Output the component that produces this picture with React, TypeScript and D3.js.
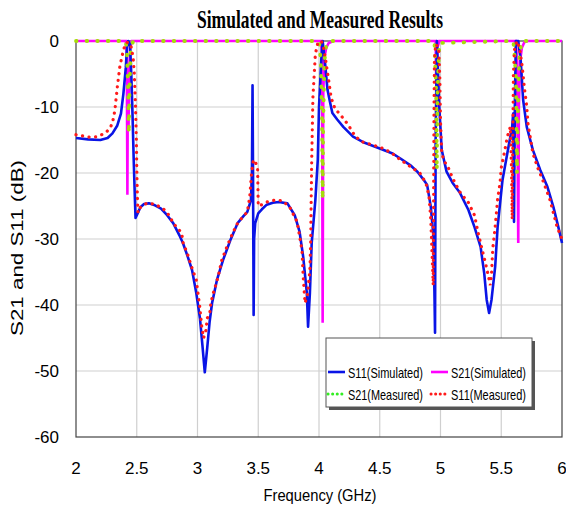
import React, { useEffect, useRef } from 'react';
import * as d3 from 'd3';

// values: [frequency GHz, dB]
const s11Simulated: [number, number][] = [
  [2.0, -14.7], [2.1, -14.9], [2.2, -15.0], [2.26, -14.7], [2.3, -14.0], [2.34, -12.8], [2.37, -11.0],
  [2.39, -8.0], [2.41, -4.0], [2.42, -1.0], [2.43, 0], [2.445, -0.5], [2.455, -5], [2.465, -11],
  [2.475, -18], [2.485, -24], [2.49, -26.8], [2.51, -26.0], [2.53, -25.2], [2.56, -24.7], [2.6, -24.6],
  [2.65, -24.9], [2.7, -25.4], [2.75, -26.4], [2.8, -27.6], [2.85, -29.4], [2.88, -30.6], [2.92, -32.7],
  [2.955, -34.7], [2.99, -38.2], [3.02, -42], [3.04, -46], [3.06, -50.2], [3.08, -46.5], [3.1, -42.5],
  [3.12, -39.7], [3.16, -36.2], [3.21, -33.2], [3.27, -30.2], [3.33, -27.6], [3.38, -26.5], [3.41, -25.9],
  [3.44, -24.1], [3.448, -20], [3.453, -6.7], [3.457, -20], [3.462, -41.5], [3.466, -30], [3.475, -27.6],
  [3.5, -26.1], [3.53, -25.5], [3.57, -24.8], [3.62, -24.5], [3.67, -24.4], [3.74, -24.6], [3.8, -26.4],
  [3.84, -28.9], [3.87, -32.7], [3.9, -38.2], [3.91, -43.3], [3.925, -38.2], [3.94, -30.6], [3.97, -24.1],
  [3.99, -18.0], [4.0, -10], [4.02, -2.4], [4.03, 0], [4.05, -3.4], [4.07, -7.4], [4.09, -9.2],
  [4.11, -10.9], [4.15, -11.9], [4.2, -13.0], [4.28, -14.5], [4.36, -15.3], [4.5, -16.3], [4.6, -17.0],
  [4.67, -17.8], [4.75, -18.8], [4.81, -19.8], [4.86, -21], [4.89, -21.8], [4.92, -25.1], [4.94, -29.1],
  [4.95, -38], [4.955, -44.2], [4.96, -15], [4.97, 0], [4.98, -5], [4.99, -10], [5.01, -16.5],
  [5.05, -19.8], [5.1, -21.5], [5.16, -23.0], [5.23, -25.6], [5.28, -28.2], [5.33, -31.2], [5.36, -35.2],
  [5.38, -39.2], [5.4, -41.2], [5.42, -39.2], [5.45, -34.2], [5.47, -28.2], [5.51, -21.1], [5.56, -16.0],
  [5.59, -13.0], [5.598, -11], [5.605, -27.4], [5.612, -10], [5.62, 0], [5.64, 0], [5.66, -2.9],
  [5.68, -8.9], [5.71, -13.0], [5.76, -16.5], [5.82, -19.5], [5.88, -22.1], [5.93, -25.2], [5.97, -28.2],
  [6.0, -30.6],
];

const s21Simulated: [number, number][] = [
  [2.0, 0], [2.41, 0], [2.418, -2], [2.423, -23.3], [2.426, -8], [2.432, -13.5], [2.438, -6],
  [2.445, -1], [2.46, 0], [4.015, 0], [4.025, -2], [4.03, -42.7], [4.035, -8], [4.045, -2.5],
  [4.06, -1], [4.08, -0.3], [4.12, 0], [4.96, 0], [4.968, -10], [4.975, -1], [4.99, 0], [5.62, 0],
  [5.63, -3], [5.64, -30.6], [5.645, -10], [5.655, -3], [5.67, -1], [5.69, -0.2], [5.72, 0], [6.0, 0],
];

const s21Measured: [number, number][] = [
  [2.0, 0], [2.41, 0], [2.42, -2], [2.43, -8], [2.435, -14], [2.44, -8], [2.45, -1.5], [2.47, 0],
  [4.0, 0], [4.015, -3], [4.025, -12], [4.03, -24], [4.035, -12], [4.045, -3], [4.06, -0.5], [4.1, 0],
  [4.95, 0], [4.965, -8], [4.97, -19.5], [4.975, -8], [4.99, -0.3], [5.6, 0], [5.62, -5], [5.63, -20],
  [5.64, -8], [5.65, -2], [5.67, 0], [6.0, 0],
];

const s11Measured: [number, number][] = [
  [2.0, -14.2], [2.06, -14.4], [2.12, -14.6], [2.17, -14.5], [2.21, -14.2], [2.25, -13.8], [2.28, -13.2],
  [2.3, -12.4], [2.32, -10.5], [2.34, -7], [2.36, -4], [2.38, -2.2], [2.4, -0.8], [2.42, -0.2],
  [2.45, -0.5], [2.47, -2.5], [2.48, -5], [2.49, -10], [2.497, -15], [2.5, -19], [2.505, -23.5],
  [2.51, -26], [2.53, -25.2], [2.58, -24.6], [2.65, -24.7], [2.73, -25.6], [2.77, -26.5], [2.8, -27.6],
  [2.87, -29.1], [2.88, -30.5], [2.92, -32.4], [2.96, -34.7], [2.99, -36.2], [3.0, -37.7], [3.02, -40.5],
  [3.035, -43.3], [3.05, -45.0], [3.07, -43.8], [3.08, -42.0], [3.1, -41.4], [3.11, -39.7], [3.13, -38.2],
  [3.15, -37.0], [3.17, -35.7], [3.2, -33.2], [3.25, -30.8], [3.29, -29.1], [3.33, -27.6], [3.37, -26.7],
  [3.41, -25.9], [3.43, -23.6], [3.445, -20], [3.46, -18], [3.48, -18.5], [3.495, -19.5], [3.5, -25],
  [3.53, -24.8], [3.57, -24.4], [3.64, -24.1], [3.7, -24.2], [3.76, -25.2], [3.82, -27.4], [3.86, -31.7],
  [3.87, -35.7], [3.885, -39.7], [3.905, -38.5], [3.925, -34.7], [3.932, -30], [3.935, -25], [3.94, -18],
  [3.95, -8.5], [3.97, -2], [3.99, -0.3], [4.02, 0], [4.04, -1.2], [4.06, -3.5], [4.08, -6], [4.1, -8.6],
  [4.13, -10.2], [4.19, -11.5], [4.24, -12.7], [4.3, -14.5], [4.36, -15.3], [4.45, -15.8], [4.53, -16.3],
  [4.6, -17], [4.67, -18.0], [4.75, -19.0], [4.83, -20.0], [4.88, -21.5], [4.905, -23.5], [4.92, -27],
  [4.93, -32], [4.94, -37], [4.943, -25], [4.946, -12], [4.95, -3], [4.96, -0.5], [4.985, -1],
  [4.995, -6], [5.0, -12], [5.01, -17], [5.03, -18.2], [5.06, -19], [5.1, -20.8], [5.16, -22.9],
  [5.23, -24.5], [5.28, -26.4], [5.31, -29.1], [5.34, -31.4], [5.38, -34.4], [5.41, -37.0], [5.42, -35.2],
  [5.43, -31.5], [5.45, -28.2], [5.47, -24], [5.49, -21.5], [5.5, -19.2], [5.53, -16.5], [5.55, -14.5],
  [5.575, -13], [5.585, -20], [5.59, -27], [5.595, -15], [5.6, -5], [5.61, -1], [5.63, 0], [5.65, -1],
  [5.67, -3.5], [5.69, -7], [5.71, -10], [5.72, -12.5], [5.76, -17], [5.8, -19.2], [5.84, -21],
  [5.9, -24], [5.96, -28.2], [6.0, -30],
];

const xTicks = [2, 2.5, 3, 3.5, 4, 4.5, 5, 5.5, 6];
const yTicks = [0, -10, -20, -30, -40, -50, -60];

const legendItems = [
  { label: 'S11(Simulated)', color: '#0a14e6', dash: null },
  { label: 'S21(Simulated)', color: '#ff00ff', dash: null },
  { label: 'S21(Measured)', color: '#33ee22', dash: 'dot' },
  { label: 'S11(Measured)', color: '#ff1a1a', dash: 'dot' },
];

const W = 566;
const H = 507;

export default function App() {
  const ref = useRef<SVGSVGElement>(null);

  useEffect(() => {
    const svg = d3.select(ref.current);
    svg.selectAll('*').remove();

    const left = 76, right = 562, top = 41, bottom = 437;
    const x = d3.scaleLinear().domain([2, 6]).range([left, right]);
    const y = d3.scaleLinear().domain([-60, 0]).range([bottom, top]);

    svg.append('rect').attr('width', W).attr('height', H).attr('fill', '#fff');

    // grid
    svg.append('g')
      .selectAll('line')
      .data(xTicks.slice(1, -1))
      .enter().append('line')
      .attr('x1', d => x(d)).attr('x2', d => x(d))
      .attr('y1', top).attr('y2', bottom)
      .attr('stroke', '#cfcfcf').attr('stroke-width', 1.2);
    svg.append('g')
      .selectAll('line')
      .data(yTicks.slice(1, -1))
      .enter().append('line')
      .attr('x1', left).attr('x2', right)
      .attr('y1', d => y(d)).attr('y2', d => y(d))
      .attr('stroke', '#cfcfcf').attr('stroke-width', 1.2);

    svg.append('rect')
      .attr('x', left).attr('y', top)
      .attr('width', right - left).attr('height', bottom - top)
      .attr('fill', 'none').attr('stroke', '#444').attr('stroke-width', 1.2);

    const line = d3.line<[number, number]>()
      .x(d => x(d[0]))
      .y(d => y(d[1]));

    svg.append('path').attr('d', line(s21Simulated))
      .attr('fill', 'none').attr('stroke', '#ff00ff').attr('stroke-width', 2.6);
    svg.append('path').attr('d', line(s11Simulated))
      .attr('fill', 'none').attr('stroke', '#0a14e6').attr('stroke-width', 2.6)
      .attr('stroke-linejoin', 'round');
    svg.append('path').attr('d', line(s21Measured))
      .attr('fill', 'none').attr('stroke', '#a6dc0a').attr('stroke-width', 3.8)
      .attr('stroke-dasharray', '0.6 10').attr('stroke-linecap', 'round');
    svg.append('path').attr('d', line(s11Measured))
      .attr('fill', 'none').attr('stroke', '#ff1a1a').attr('stroke-width', 3.2)
      .attr('stroke-dasharray', '0.1 6.5').attr('stroke-linecap', 'round');

    const font = 'Arial, "Liberation Sans", sans-serif';

    // tick labels
    svg.append('g')
      .selectAll('text')
      .data(yTicks)
      .enter().append('text')
      .attr('x', 59).attr('y', d => y(d) + 6)
      .attr('text-anchor', 'end')
      .attr('font-family', font).attr('font-size', 17)
      .text(d => d);
    svg.append('g')
      .selectAll('text')
      .data(xTicks)
      .enter().append('text')
      .attr('x', d => x(d)).attr('y', 474)
      .attr('text-anchor', 'middle')
      .attr('font-family', font).attr('font-size', 17)
      .text(d => d);

    svg.append('text')
      .attr('x', 320).attr('y', 501)
      .attr('text-anchor', 'middle')
      .attr('font-family', font).attr('font-size', 17)
      .attr('textLength', 113).attr('lengthAdjust', 'spacingAndGlyphs')
      .text('Frequency (GHz)');

    svg.append('text')
      .attr('transform', 'translate(23,248) rotate(-90)')
      .attr('text-anchor', 'middle')
      .attr('font-family', font).attr('font-size', 17)
      .attr('textLength', 176).attr('lengthAdjust', 'spacingAndGlyphs')
      .text('S21 and S11 (dB)');

    svg.append('text')
      .attr('x', 320).attr('y', 28)
      .attr('text-anchor', 'middle')
      .attr('font-family', '"Times New Roman", "Liberation Serif", serif')
      .attr('font-weight', 'bold').attr('font-size', 25)
      .attr('textLength', 246).attr('lengthAdjust', 'spacingAndGlyphs')
      .text('Simulated and Measured Results');

    // legend
    const lg = svg.append('g');
    lg.append('rect').attr('x', 329).attr('y', 341).attr('width', 206).attr('height', 69).attr('fill', '#555');
    lg.append('rect').attr('x', 326).attr('y', 338).attr('width', 206).attr('height', 69)
      .attr('fill', '#fff').attr('stroke', '#555').attr('stroke-width', 1);
    legendItems.forEach((item, i) => {
      const cx = 328 + (i % 2) * 103;
      const cy = 372 + Math.floor(i / 2) * 22;
      lg.append('line')
        .attr('x1', cx).attr('x2', cx + 17).attr('y1', cy).attr('y2', cy)
        .attr('stroke', item.color).attr('stroke-width', item.dash ? 3 : 2.6)
        .attr('stroke-dasharray', item.dash ? '0.1 4.5' : null)
        .attr('stroke-linecap', item.dash ? 'round' : 'butt');
      lg.append('text')
        .attr('x', cx + 20).attr('y', cy + 5.5)
        .attr('font-family', font).attr('font-size', 15)
        .attr('textLength', 75).attr('lengthAdjust', 'spacingAndGlyphs')
        .text(item.label);
    });
  }, []);

  return (
    <svg ref={ref} width={W} height={H} style={{ position: 'absolute', left: 0, top: 0 }} />
  );
}
